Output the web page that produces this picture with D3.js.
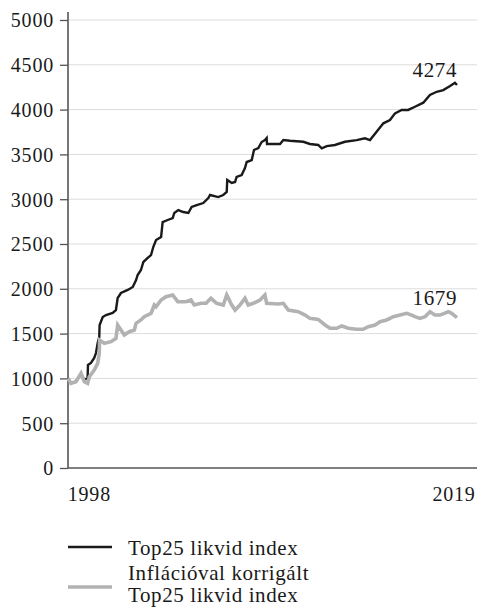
<!DOCTYPE html>
<html>
<head>
<meta charset="utf-8">
<script src="https://cdn.jsdelivr.net/npm/d3@7"></script>
<style>
  body { margin: 0; background: #fff; }
  svg { display: block; font-family: "Liberation Serif", "DejaVu Serif", serif; }
  .grid line { stroke: #dcdcdc; stroke-width: 1; }
  .axis path, .axis line { stroke: #555; }
  .axis text { fill: #1a1a1a; font-size: 20px; letter-spacing: 0.8px; font-family: "Liberation Serif", serif; }
  .label { fill: #1a1a1a; font-size: 21px; letter-spacing: 0.6px; }
</style>
</head>
<body>
<div id="chart"></div>
<script>
const width = 477, height = 608;
const margin = {top: 20, right: 0, bottom: 140, left: 68};

// Top25 likvid index
const topYears = [1996.80, 1996.97, 1997.26, 1997.55, 1997.74, 1997.93, 1997.95, 1998.12, 1998.31, 1998.41,
  1998.51, 1998.60, 1998.62, 1998.80, 1998.99, 1999.37, 1999.56, 1999.66, 1999.85, 2000.24,
  2000.53, 2000.72, 2000.81, 2001.00, 2001.14, 2001.39, 2001.58, 2001.71, 2001.87, 2002.16,
  2002.25, 2002.54, 2002.83, 2002.92, 2003.15, 2003.44, 2003.73, 2003.92, 2004.21, 2004.59,
  2004.88, 2004.98, 2005.45, 2005.74, 2005.94, 2005.97, 2006.23, 2006.42, 2006.51, 2006.80,
  2006.99, 2007.09, 2007.38, 2007.51, 2007.76, 2007.95, 2008.14, 2008.24, 2008.26, 2009.01,
  2009.20, 2009.58, 2010.35, 2010.73, 2011.21, 2011.41, 2011.70, 2012.17, 2012.75, 2013.42,
  2013.90, 2014.19, 2014.57, 2014.96, 2015.34, 2015.63, 2016.01, 2016.39, 2016.78, 2017.26,
  2017.64, 2018.03, 2018.41, 2018.80, 2019.08, 2019.20];
const topValues = [1000, 950, 965, 1050, 985, 1004, 1150, 1172, 1228, 1283,
  1395, 1462, 1596, 1685, 1707, 1730, 1763, 1897, 1953, 1987,
  2020, 2098, 2154, 2210, 2299, 2344, 2377, 2466, 2545, 2578,
  2745, 2768, 2790, 2846, 2879, 2857, 2846, 2913, 2935, 2957,
  3013, 3047, 3024, 3047, 3080, 3214, 3181, 3192, 3248, 3270,
  3348, 3415, 3437, 3549, 3571, 3638, 3660, 3683, 3616, 3616,
  3660, 3652, 3641, 3616, 3605, 3568, 3593, 3605, 3641, 3660,
  3679, 3660, 3753, 3847, 3884, 3958, 3996, 3996, 4032, 4077,
  4163, 4199, 4218, 4263, 4300, 4274];

// Inflációval korrigált Top25 likvid index
const inflYears = [1996.80, 1996.97, 1997.26, 1997.55, 1997.74, 1997.93, 1998.03, 1998.31, 1998.51, 1998.60,
  1998.62, 1998.89, 1999.28, 1999.56, 1999.66, 1999.85, 2000.04, 2000.33, 2000.62, 2000.72,
  2001.00, 2001.19, 2001.58, 2001.77, 2001.87, 2002.16, 2002.44, 2002.83, 2003.12, 2003.59,
  2003.88, 2004.07, 2004.46, 2004.75, 2005.03, 2005.36, 2005.74, 2005.94, 2006.23, 2006.42,
  2006.70, 2006.99, 2007.18, 2007.47, 2007.86, 2008.14, 2008.24, 2008.91, 2009.20, 2009.49,
  2010.06, 2010.45, 2010.73, 2011.21, 2011.60, 2011.89, 2012.27, 2012.56, 2012.94, 2013.42,
  2013.80, 2014.09, 2014.48, 2014.77, 2015.15, 2015.53, 2015.92, 2016.30, 2016.59, 2016.78,
  2017.07, 2017.36, 2017.64, 2017.93, 2018.22, 2018.70, 2018.89, 2019.20];
const inflValues = [1000, 945, 963, 1057, 963, 945, 1019, 1094, 1168, 1280,
  1428, 1392, 1410, 1447, 1596, 1540, 1484, 1521, 1540, 1615,
  1652, 1689, 1726, 1819, 1800, 1875, 1912, 1931, 1856, 1856,
  1875, 1819, 1838, 1838, 1894, 1838, 1819, 1931, 1819, 1763,
  1819, 1894, 1819, 1838, 1875, 1931, 1838, 1830, 1838, 1763,
  1744, 1707, 1670, 1659, 1596, 1559, 1559, 1585, 1559, 1548,
  1548, 1577, 1596, 1633, 1652, 1689, 1707, 1726, 1707, 1689,
  1670, 1689, 1744, 1707, 1707, 1744, 1726, 1679];

const yTicks = [0, 500, 1000, 1500, 2000, 2500, 3000, 3500, 4000, 4500, 5000];
const xTicks = [1998, 2019];
const legendLabels = [["Top25 likvid index"], ["Inflációval korrigált", "Top25 likvid index"]];

const svg = d3.select("#chart").append("svg")
  .attr("width", width)
  .attr("height", height)
  .attr("viewBox", `0 0 ${width} ${height}`);

const xScale = d3.scaleLinear()
  .domain([1996.8, 2019.2])
  .range([68, 457]);
const yScale = d3.scaleLinear()
  .domain([0, 5000])
  .range([468, 20]);

//
// Grid
//
svg.append("g")
  .attr("class", "grid")
  .selectAll("line")
  .data(yTicks.filter(d => d > 0))
  .enter().append("line")
  .attr("x1", 68)
  .attr("x2", width)
  .attr("y1", d => yScale(d))
  .attr("y2", d => yScale(d));

//
// Axes
//
const yAxis = svg.append("g")
  .attr("class", "axis")
  .attr("transform", "translate(68,0)")
  .call(d3.axisLeft(yScale).tickValues(yTicks).tickFormat(d3.format("d")).tickSize(8).tickPadding(6).tickSizeOuter(0));
yAxis.select(".domain").attr("d", `M0,12V${yScale(0)}`).attr("stroke-width", 1.6);
yAxis.selectAll(".tick line").attr("stroke-width", 1.3);
yAxis.selectAll(".tick text").attr("dy", "0.34em");

const xAxis = svg.append("g")
  .attr("class", "axis")
  .attr("transform", `translate(0,${yScale(0)})`)
  .call(d3.axisBottom(xScale).tickValues(xTicks).tickFormat(d3.format("d")).tickSize(0).tickPadding(19));
xAxis.select(".domain").attr("d", `M68,0H${width}`).attr("stroke-width", 1.6);

//
// Lines
//
const line = d3.line()
  .x(d => xScale(d[0]))
  .y(d => yScale(d[1]));

const topData = d3.zip(topYears, topValues);
const inflData = d3.zip(inflYears, inflValues);

svg.append("path")
  .datum(topData)
  .attr("fill", "none")
  .attr("stroke", "#1a1a1a")
  .attr("stroke-width", 2.4)
  .attr("d", line);

svg.append("path")
  .datum(inflData)
  .attr("fill", "none")
  .attr("stroke", "#b2b2b2")
  .attr("stroke-width", 3.6)
  .attr("d", line);

// end labels
const lastTop = topData[topData.length - 1];
const lastInfl = inflData[inflData.length - 1];
svg.append("text")
  .attr("class", "label")
  .attr("text-anchor", "end")
  .attr("x", xScale(lastTop[0]))
  .attr("y", yScale(lastTop[1]) - 8)
  .text(lastTop[1]);
svg.append("text")
  .attr("class", "label")
  .attr("text-anchor", "end")
  .attr("x", xScale(lastInfl[0]))
  .attr("y", yScale(lastInfl[1]) - 13)
  .text(lastInfl[1]);

//
// Legend
//
const legend = svg.append("g").attr("class", "legend");
legend.append("line")
  .attr("x1", 68).attr("x2", 112)
  .attr("y1", 547).attr("y2", 547)
  .attr("stroke", "#1a1a1a").attr("stroke-width", 2.4);
legend.append("text")
  .attr("class", "label")
  .attr("x", 128).attr("y", 555)
  .text(legendLabels[0][0]);
legend.append("line")
  .attr("x1", 68).attr("x2", 112)
  .attr("y1", 587).attr("y2", 587)
  .attr("stroke", "#b2b2b2").attr("stroke-width", 3.6);
legend.append("text")
  .attr("class", "label")
  .selectAll("tspan")
  .data(legendLabels[1])
  .enter().append("tspan")
  .attr("x", 128)
  .attr("y", (d, i) => 580 + i * 22)
  .text(d => d);
</script>
</body>
</html>
